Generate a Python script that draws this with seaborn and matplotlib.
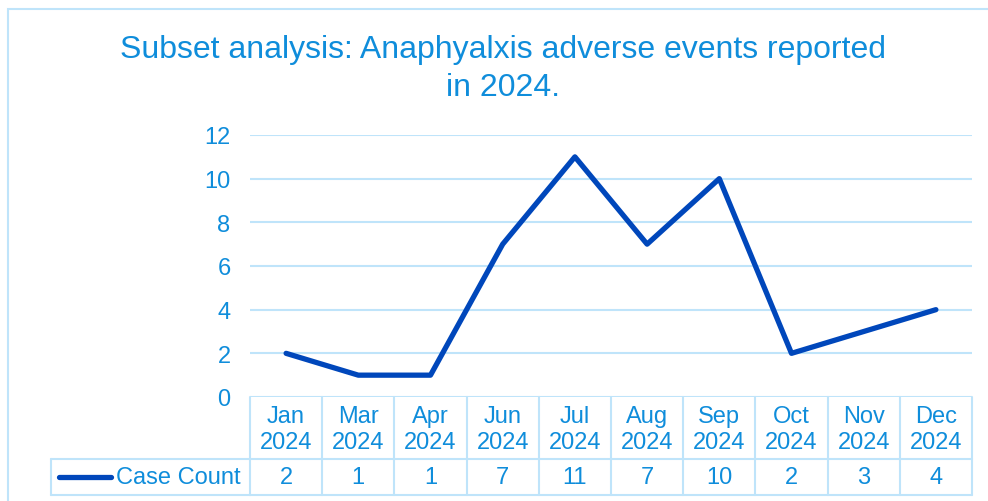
import matplotlib
matplotlib.use("Agg")
import matplotlib.pyplot as plt
import matplotlib.transforms as mtransforms
from matplotlib.patches import Rectangle
import seaborn as sns
import pandas as pd

months = ["Jan", "Mar", "Apr", "Jun", "Jul", "Aug", "Sep", "Oct", "Nov", "Dec"]
years = ["2024"] * len(months)
case_count = [2, 1, 1, 7, 11, 7, 10, 2, 3, 4]
y_ticks = [0, 2, 4, 6, 8, 10, 12]
series_name = "Case Count"
title = "Subset analysis: Anaphyalxis adverse events reported\nin 2024."

TEXT = "#0f8ddb"
LINE = "#0047bb"
GRID = "#bfe4fa"

sns.set_theme(style="white")
plt.rcParams["font.family"] = ["Liberation Sans", "DejaVu Sans"]

df = pd.DataFrame({
    "period": [f"{m}\n{y}" for m, y in zip(months, years)],
    "count": case_count,
})

W, H = 988, 502
fig = plt.figure(figsize=(W / 100, H / 100), dpi=100)

# outer chart frame
fig.patches.append(Rectangle((8 / W, -0.05), 1.2, 1 - 10 / H + 0.05,
                             transform=fig.transFigure, fill=False,
                             edgecolor=GRID, linewidth=1.5))

x0, x1, ytop, ybot = 250, 972, 136, 398
ax = fig.add_axes([x0 / W, 1 - ybot / H, (x1 - x0) / W, (ybot - ytop) / H])

sns.lineplot(data=df, x="period", y="count", ax=ax, color=LINE,
             linewidth=3.8, sort=False, solid_capstyle="round",
             solid_joinstyle="round", zorder=3)

ax.set_xlim(-0.5, len(months) - 0.5)
ax.set_ylim(0, 12)
ax.set_yticks(y_ticks)
ax.set_yticklabels([str(t) for t in y_ticks], color=TEXT, fontsize=17)
ax.tick_params(axis="y", length=0, pad=14)
ax.set_xticks([])
ax.set_xlabel("")
ax.set_ylabel("")
for s in ax.spines.values():
    s.set_visible(False)
for t in y_ticks:
    ax.axhline(t, color=GRID, linewidth=1.5, zorder=1)

# data table under the axis
ah = ybot - ytop
row1 = -(460 - ybot) / ah
row2 = -(496 - ybot) / ah
tr = mtransforms.blended_transform_factory(ax.transData, ax.transAxes)
n = len(months)
for i in range(n + 1):
    ax.plot([i - 0.5, i - 0.5], [0, row2], transform=tr, color=GRID,
            linewidth=1.5, clip_on=False)
ax.plot([-0.5, n - 0.5], [row2, row2], transform=tr, color=GRID,
        linewidth=1.5, clip_on=False)
left_cell = -(x0 - 51) / (x1 - x0)
ax.plot([left_cell, 1], [row1, row1], transform=ax.transAxes, color=GRID,
        linewidth=1.5, clip_on=False)
ax.plot([left_cell, 0], [row2, row2], transform=ax.transAxes, color=GRID,
        linewidth=1.5, clip_on=False)
ax.plot([left_cell, left_cell], [row1, row2], transform=ax.transAxes,
        color=GRID, linewidth=1.5, clip_on=False)

head_y = -(430 - ybot) / ah
val_y = -(478 - ybot) / ah
for i, (m, y, v) in enumerate(zip(months, years, case_count)):
    ax.text(i, head_y, f"{m}\n{y}", transform=tr, ha="center", va="center",
            color=TEXT, fontsize=17, linespacing=1.22)
    ax.text(i, val_y, str(v), transform=tr, ha="center",
            va="center", color=TEXT, fontsize=17)

# legend key inside the table's row header
ax.plot([-(x0 - 59) / (x1 - x0), -(x0 - 111) / (x1 - x0)], [val_y, val_y],
        transform=ax.transAxes, color=LINE, linewidth=3.8,
        solid_capstyle="round", clip_on=False)
ax.text(-(x0 - 116) / (x1 - x0), val_y, series_name, transform=ax.transAxes,
        ha="left", va="center", color=TEXT, fontsize=17)

fig.text(503 / W, 1 - 69 / H, title, ha="center", va="center", color=TEXT,
         fontsize=23, linespacing=1.36)

fig.savefig("out.png", dpi=100)
